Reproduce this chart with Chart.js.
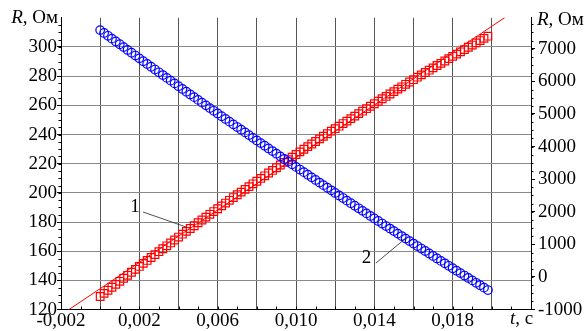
<!DOCTYPE html>
<html>
<head>
<meta charset="utf-8">
<script src="https://cdn.jsdelivr.net/npm/chart.js@4.4.1/dist/chart.umd.min.js"></script>
<style>
  html, body { margin: 0; padding: 0; background: #fff; }
  #wrap { width: 587px; height: 331px; }
</style>
</head>
<body>
<div id="wrap"><canvas id="chart" width="587" height="331"></canvas></div>
<script>
// ==================================================
// 1. DATA
// ==================================================
const timeS = [
  0.0000, 0.0002, 0.0004, 0.0006, 0.0008, 0.0010, 0.0012, 0.0014, 0.0016, 0.0018,
  0.0020, 0.0022, 0.0024, 0.0026, 0.0028, 0.0030, 0.0032, 0.0034, 0.0036, 0.0038,
  0.0040, 0.0042, 0.0044, 0.0046, 0.0048, 0.0050, 0.0052, 0.0054, 0.0056, 0.0058,
  0.0060, 0.0062, 0.0064, 0.0066, 0.0068, 0.0070, 0.0072, 0.0074, 0.0076, 0.0078,
  0.0080, 0.0082, 0.0084, 0.0086, 0.0088, 0.0090, 0.0092, 0.0094, 0.0096, 0.0098,
  0.0100, 0.0102, 0.0104, 0.0106, 0.0108, 0.0110, 0.0112, 0.0114, 0.0116, 0.0118,
  0.0120, 0.0122, 0.0124, 0.0126, 0.0128, 0.0130, 0.0132, 0.0134, 0.0136, 0.0138,
  0.0140, 0.0142, 0.0144, 0.0146, 0.0148, 0.0150, 0.0152, 0.0154, 0.0156, 0.0158,
  0.0160, 0.0162, 0.0164, 0.0166, 0.0168, 0.0170, 0.0172, 0.0174, 0.0176, 0.0178,
  0.0180, 0.0182, 0.0184, 0.0186, 0.0188, 0.0190, 0.0192, 0.0194, 0.0196, 0.0198
];

// curve 1 (red squares), left axis, Ом
const resist1 = [
  129.0, 131.1, 133.2, 135.3, 137.3, 139.4, 141.5, 143.5, 145.6, 147.6,
  149.6, 151.7, 153.7, 155.7, 157.7, 159.7, 161.7, 163.7, 165.7, 167.7,
  169.7, 171.7, 173.6, 175.6, 177.5, 179.5, 181.4, 183.4, 185.3, 187.2,
  189.1, 191.1, 193.0, 194.9, 196.8, 198.7, 200.5, 202.4, 204.3, 206.2,
  208.0, 209.9, 211.7, 213.6, 215.4, 217.2, 219.1, 220.9, 222.7, 224.5,
  226.3, 228.1, 229.9, 231.7, 233.5, 235.2, 237.0, 238.8, 240.5, 242.3,
  244.0, 245.7, 247.5, 249.2, 250.9, 252.6, 254.3, 256.0, 257.7, 259.4,
  261.1, 262.8, 264.5, 266.1, 267.8, 269.4, 271.1, 272.7, 274.4, 276.0,
  277.6, 279.3, 280.9, 282.5, 284.1, 285.7, 287.3, 288.8, 290.4, 292.0,
  293.6, 295.1, 296.7, 298.2, 299.8, 301.3, 302.8, 304.4, 305.9, 307.4
];

// curve 2 (blue circles), right axis, Ом
const resist2 = [
  7573, 7486, 7398, 7311, 7225, 7138, 7051, 6965, 6878, 6792,
  6706, 6620, 6534, 6449, 6363, 6278, 6193, 6107, 6023, 5938,
  5853, 5768, 5684, 5600, 5516, 5432, 5348, 5264, 5180, 5097,
  5014, 4931, 4848, 4765, 4682, 4599, 4517, 4435, 4352, 4270,
  4188, 4107, 4025, 3943, 3862, 3781, 3700, 3619, 3538, 3457,
  3377, 3296, 3216, 3136, 3056, 2976, 2896, 2817, 2737, 2658,
  2579, 2500, 2421, 2342, 2264, 2185, 2107, 2029, 1951, 1873,
  1795, 1717, 1640, 1563, 1485, 1408, 1331, 1255, 1178, 1101,
  1025, 949, 873, 797, 721, 645, 570, 494, 419, 344,
  269, 194, 119, 45, -30, -104, -178, -252, -326, -400
];

// straight fit through curve 1
const fitT = [-0.002, 0.022];
const fitR = [116.4, 332.2];

// axes
const xTicks = [-0.002, 0, 0.002, 0.004, 0.006, 0.008, 0.010, 0.012, 0.014, 0.016, 0.018, 0.020, 0.022];
const xLabelTicks = [-0.002, 0.002, 0.006, 0.010, 0.014, 0.018];
const leftTicks = [120, 140, 160, 180, 200, 220, 240, 260, 280, 300];
const rightTicks = [-1000, 0, 1000, 2000, 3000, 4000, 5000, 6000, 7000];

// callout labels "1" and "2" (left-axis data units)
const callouts = [
  { text: '1', at: [0.00153, 186.9], from: [0.00219, 186.9], to: [0.00439, 176.6] },
  { text: '2', at: [0.01336, 151.9], from: [0.01408, 151.9], to: [0.01562, 169.1] }
];

// ==================================================
// 2. HELPERS
// ==================================================
const FONT = '"Liberation Serif", "Times New Roman", serif';
const toPoints = (xs, ys) => xs.map((x, i) => ({ x: x, y: ys[i] }));
const fmtX = v => v.toFixed(3).replace('.', ',');

function drawTitle(ctx, italicPart, plainPart, x, y, align) {
    ctx.font = 'italic 19px ' + FONT;
    const w1 = ctx.measureText(italicPart).width;
    ctx.font = '19px ' + FONT;
    const w2 = ctx.measureText(plainPart).width;
    const x0 = align === 'right' ? x - w1 - w2 : x;
    ctx.textAlign = 'left';
    ctx.font = 'italic 19px ' + FONT;
    ctx.fillText(italicPart, x0, y);
    ctx.font = '19px ' + FONT;
    ctx.fillText(plainPart, x0 + w1, y);
}

const decorPlugin = {
    id: 'decor',
    afterDraw(chart) {
        const { ctx, chartArea: a, scales } = chart;
        const sx = scales.x, sy = scales.y, sy2 = scales.y2;
        ctx.save();
        ctx.strokeStyle = '#000';
        ctx.lineWidth = 1;

        // minor ticks
        ctx.beginPath();
        for (let v = 125; v < 320; v += 5) {
            const py = Math.round(sy.getPixelForValue(v)) + 0.5;
            ctx.moveTo(a.left, py); ctx.lineTo(a.left - 2.5, py);
        }
        for (let v = -750; v < 7950; v += 250) {
            const py = Math.round(sy2.getPixelForValue(v)) + 0.5;
            ctx.moveTo(a.right, py); ctx.lineTo(a.right + 2.5, py);
        }
        for (let v = -0.001; v < 0.022; v += 0.001) {
            const px = Math.round(sx.getPixelForValue(v)) + 0.5;
            ctx.moveTo(px, a.bottom); ctx.lineTo(px, a.bottom - 3);
        }
        ctx.stroke();

        // axis titles
        ctx.fillStyle = '#000';
        ctx.textBaseline = 'alphabetic';
        drawTitle(ctx, 'R', ', Ом', a.left - 3, a.top + 5, 'right');
        drawTitle(ctx, 'R', ', Ом', a.right + 6, a.top + 7, 'left');
        drawTitle(ctx, 't', ', с', a.right - 21, a.bottom + 14, 'left');

        // callouts
        ctx.strokeStyle = '#222';
        ctx.lineWidth = 0.8;
        ctx.font = '19px ' + FONT;
        callouts.forEach(c => {
            ctx.beginPath();
            ctx.moveTo(sx.getPixelForValue(c.from[0]), sy.getPixelForValue(c.from[1]));
            ctx.lineTo(sx.getPixelForValue(c.to[0]), sy.getPixelForValue(c.to[1]));
            ctx.stroke();
            ctx.fillText(c.text, sx.getPixelForValue(c.at[0]), sy.getPixelForValue(c.at[1]));
        });
        ctx.restore();
    }
};

// ==================================================
// 3. CHART
// ==================================================
Chart.defaults.font.family = FONT;
Chart.defaults.font.size = 19;
Chart.defaults.color = '#000';

new Chart(document.getElementById('chart'), {
    type: 'scatter',
    data: {
        datasets: [
            {
                label: '2',
                data: toPoints(timeS, resist2),
                yAxisID: 'y2',
                pointStyle: 'circle',
                pointRadius: 4.3,
                pointBorderWidth: 1.2,
                borderColor: '#0000ff',
                backgroundColor: 'transparent'
            },
            {
                label: '1',
                data: toPoints(timeS, resist1),
                yAxisID: 'y',
                pointStyle: 'rect',
                pointRadius: 5.4,
                pointBorderWidth: 1.2,
                borderColor: '#ff0000',
                backgroundColor: 'transparent'
            },
            {
                label: 'fit',
                data: toPoints(fitT, fitR),
                yAxisID: 'y',
                showLine: true,
                pointRadius: 0,
                borderWidth: 1,
                borderColor: '#ff0000'
            }
        ]
    },
    options: {
        responsive: false,
        animation: false,
        devicePixelRatio: 1,
        layout: { padding: { top: 17.8, left: 0, right: 0, bottom: 0 } },
        plugins: { legend: { display: false }, tooltip: { enabled: false } },
        scales: {
            x: {
                type: 'linear',
                min: -0.002,
                max: 0.022,
                afterBuildTicks: s => { s.ticks = xTicks.map(v => ({ value: v })); },
                afterFit: s => { s.height = 21.4; },
                ticks: {
                    autoSkip: false,
                    maxRotation: 0,
                    padding: 0,
                    callback: v => xLabelTicks.some(t => Math.abs(t - v) < 1e-9) ? fmtX(v) : ''
                },
                grid: { color: '#555', lineWidth: 1, drawTicks: false },
                border: { display: true, color: '#000', width: 1 }
            },
            y: {
                type: 'linear',
                position: 'left',
                min: 120,
                max: 320,
                afterBuildTicks: s => { s.ticks = leftTicks.map(v => ({ value: v })); },
                afterFit: s => { s.width = 61; },
                ticks: { padding: 0, callback: v => String(v) },
                grid: {
                    color: ctx => ctx.tick && ctx.tick.value === 120 ? 'transparent' : '#8a8a8a',
                    lineWidth: 1,
                    tickLength: 4,
                    tickColor: '#000'
                },
                border: { display: true, color: '#000', width: 1 }
            },
            y2: {
                type: 'linear',
                position: 'right',
                min: -1000,
                max: 7950,
                afterBuildTicks: s => { s.ticks = rightTicks.map(v => ({ value: v })); },
                afterFit: s => { s.width = 56; },
                ticks: { padding: 3, callback: v => String(v) },
                grid: { drawOnChartArea: false, tickLength: 4, tickColor: '#000' },
                border: { display: true, color: '#000', width: 1 }
            }
        }
    },
    plugins: [decorPlugin]
});
</script>
</body>
</html>
